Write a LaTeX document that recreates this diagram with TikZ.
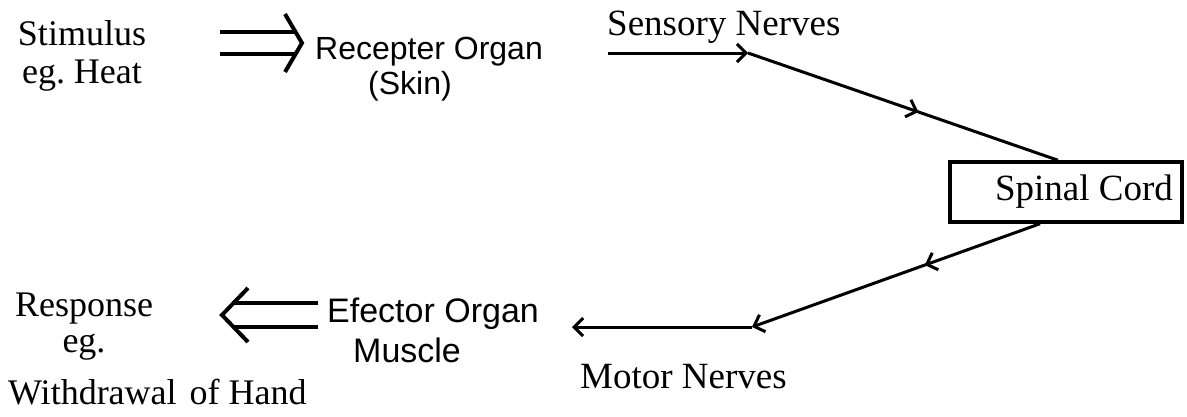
\documentclass[tikz,border=0pt]{standalone}
\usepackage{fontspec}
\setmainfont{Liberation Serif}
\setsansfont{Liberation Sans}
\usetikzlibrary{arrows.meta, calc, decorations.markings}
\frenchspacing

\tikzset{
  serif/.style={font=\fontsize{36}{38}\selectfont, inner sep=0pt},
  sans/.style={font=\sffamily\fontsize{32}{35}\selectfont, inner sep=0pt},
  nerve/.style={line width=3pt, -{Straight Barb[length=9pt, width=18pt]}},
  midarrow/.style={postaction={decorate}, decoration={markings,
      mark=at position #1 with {\arrow{Straight Barb[length=9pt, width=18pt]}}}},
  fat/.style={line width=4pt},
  cordbox/.style={draw, line width=3.5pt, minimum height=60pt, minimum width=232pt,
      inner sep=0pt, font=\fontsize{37}{38}\selectfont}
}

\begin{document}
\begin{tikzpicture}[x=1pt, y=-1pt]
  \useasboundingbox (0,0) rectangle (1187,416);

  % texts
  \node[serif, align=center, anchor=base] (stim) at (82,83) {Stimulus\\eg. Heat};
  \node[sans, align=left, anchor=base west] (recep) at (315,94)
    {Recepter Organ\\\hspace*{53pt}(Skin)};
  \node[serif, font=\fontsize{37}{38}\selectfont, anchor=base west] (sensl) at (607,35) {Sensory Nerves};
  \node[cordbox] (cord) at (1066,192) {\hspace*{36pt}Spinal Cord};
  \node[serif, font=\fontsize{37}{38}\selectfont, anchor=base west] (motl) at (580,388) {Motor Nerves};
  \node[sans, font=\sffamily\fontsize{34}{40}\selectfont, align=left, anchor=base west] (efect)
    at (327,362) {Efector Organ\\\hspace*{26pt}Muscle};
  \node[serif, font=\fontsize{36}{36}\selectfont, align=center, anchor=base] (resp)
    at (84,352) {Response\\eg.};
  \node[serif, anchor=base west] (withd) at (8,404) {Withdrawal\hspace{4pt} of Hand};

  % double arrows
  \coordinate (dblA) at (220,43);
  \coordinate (dblB) at (302,43);
  \draw[fat] ($(dblA)+(0,-11)$) -- ($(dblB)+(-7,-11)$);
  \draw[fat] ($(dblA)+(0,11)$) -- ($(dblB)+(-7,11)$);
  \draw[fat] ($(dblB)+(-17,-29)$) -- (dblB) -- ($(dblB)+(-17,29)$);

  \coordinate (dblC) at (318,315);
  \coordinate (dblD) at (222,315);
  \draw[fat] ($(dblC)+(0,-12)$) -- ($(dblD)+(12,-12)$);
  \draw[fat] ($(dblC)+(0,12)$) -- ($(dblD)+(12,12)$);
  \draw[fat] ($(dblD)+(26,-27)$) -- (dblD) -- ($(dblD)+(26,27)$);

  % nerves
  \coordinate (sens0) at (608,53);
  \coordinate (sens1) at (748,53);
  \draw[nerve] (sens0) -- (sens1);
  \draw[line width=3pt, midarrow=0.55] (sens1) -- ([xshift=-8pt]cord.north);

  \coordinate (mot1) at (752,327);
  \coordinate (mot0) at (572,327);
  \draw[nerve, midarrow=0.4] ([xshift=-26pt]cord.south) -- (mot1);
  \draw[nerve] (mot1) -- (mot0);
\end{tikzpicture}
\end{document}
